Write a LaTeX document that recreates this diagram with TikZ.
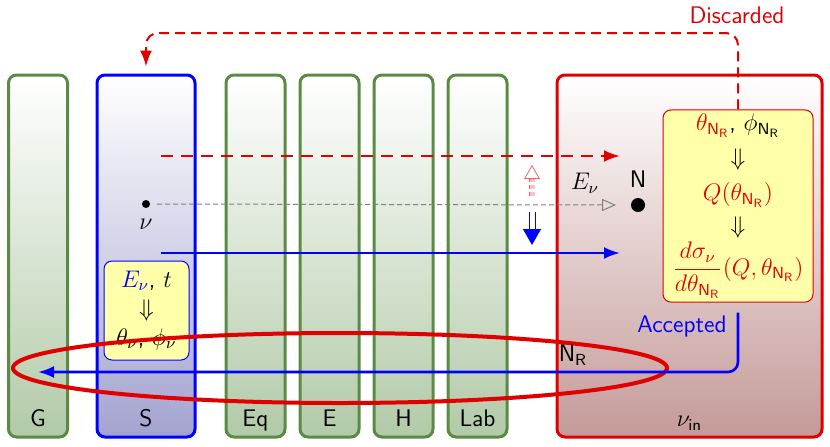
\documentclass[tikz,border=0pt,12pt]{standalone}
\usepackage{xcolor}
\usepackage{tikz}
\usetikzlibrary{positioning, arrows.meta}
\definecolor{layergreen}{HTML}{5A8A46}
\definecolor{layerfill}{HTML}{B2CAA8}
\definecolor{sourcefill}{HTML}{A3A3D0}
\definecolor{detfill}{HTML}{C49A98}
\definecolor{hitred}{HTML}{E00000}
\definecolor{noteyellow}{HTML}{FFFFAA}

\begin{document}
\begin{tikzpicture}[x=0.5pt, y=-0.5pt, font=\sffamily,
    layer/.style={draw=layergreen, line width=1.5pt, rounded corners=4pt,
        top color=white, bottom color=layerfill, minimum width=29.5pt, minimum height=181pt},
    note/.style={fill=noteyellow, rounded corners=4pt, line width=0.5pt, align=center, inner sep=2pt},
    laylabel/.style={anchor=base},
    path/.style={line width=1.3pt, -{Latex[length=8pt, width=6pt]}}]
    \useasboundingbox (0,0) rectangle (830,446);

    \node[layer] (G) at (38,256) {};
    \node[layer, draw=blue, bottom color=sourcefill, minimum width=49pt] (S) at (146,256) {};
    \node[layer] (Eq) at (255.5,256) {};
    \node[layer] (E) at (329.5,256) {};
    \node[layer] (H) at (403.5,256) {};
    \node[layer] (Lab) at (477.5,256) {};
    \node[layer, draw=hitred, bottom color=detfill, minimum width=132.5pt] (det) at (689.5,256) {};

    \foreach \n/\t in {G/G, S/S, Eq/Eq, E/E, H/H, Lab/Lab}
        \node[laylabel] at ([yshift=6pt]\n.south) {\t};
    \node[laylabel] at ([yshift=6pt]det.south) {$\nu_{\mathsf{in}}$};

    \node[note, draw=blue, minimum width=42.5pt, minimum height=49.5pt] (srcnote) at (146.5,310.5) {%
        {\color{blue}$E_\nu$}, $t$\\
        $\Downarrow$\\
        $\theta_\nu$, $\phi_\nu$};
    \node[note, draw=hitred, minimum width=75pt, minimum height=94pt] (kin) at (738,206) {%
        {\color{hitred}$\theta_{\mathsf{N}_\mathsf{R}}$}, $\phi_{\mathsf{N}_\mathsf{R}}$\\[3pt]
        $\Downarrow$\\[3pt]
        {\color{hitred}$Q(\theta_{\mathsf{N}_\mathsf{R}})$}\\[2pt]
        $\Downarrow$\\[1pt]
        {\color{hitred}$\displaystyle\frac{d\sigma_\nu}{d\theta_{\mathsf{N}_\mathsf{R}}}(Q,\theta_{\mathsf{N}_\mathsf{R}})$}};

    \node[circle, fill, inner sep=0pt, minimum size=4pt] (nu) at (146,204) {};
    \node[below=1pt of nu] {$\nu$};
    \node[circle, fill, inner sep=0pt, minimum size=7pt] (nucleus) at (638,205) {};
    \node[above=1pt of nucleus] {N};
    \node at (585,183) {$E_\nu$};

    \coordinate (farA) at (161,156);
    \coordinate (farB) at (620,156);
    \coordinate (nearA) at (161,253);
    \coordinate (nearB) at (620,253);
    \draw[path, hitred, dash pattern=on 6pt off 4pt] (farA) -- (farB);
    \draw[gray, line width=0.5pt, dash pattern=on 2.5pt off 1.5pt, -{Triangle[open, length=7pt, width=6pt]}]
        ([xshift=5.5pt]nu.center) -- ([xshift=-11pt]nucleus.center);
    \draw[path, blue] (nearA) -- (nearB);

    \coordinate (upA) at (532,196);
    \coordinate (upB) at (532,165);
    \coordinate (downA) at (532,212);
    \coordinate (downB) at (532,245);
    \draw[hitred, opacity=0.6, line width=0.4pt, double distance=2.5pt, dash pattern=on 2pt off 1.5pt,
        -{Triangle[open, length=7pt, width=8pt]}] (upA) -- (upB);
    \draw[blue, line width=0.5pt, double distance=2.5pt, -{Triangle[length=8pt, width=9pt]}] (downA) -- (downB);

    \draw[hitred, line width=2pt] (340,368) ellipse [x radius=163.5pt, y radius=17.5pt];

    \coordinate (disc) at (740,33);
    \draw[path, hitred, dash pattern=on 5pt off 3pt, rounded corners=6pt, line width=1pt]
        (kin.north) |- (S.north |- disc) -- ([yshift=3.5pt]S.north);
    \node[hitred] at (737,15) {Discarded};

    \coordinate (back) at (38,372);
    \draw[path, blue, rounded corners=5pt] ([yshift=-5pt]kin.south) |- (back);
    \node[blue] at (682,326) {Accepted};
    \node at (573,355) {N$_\mathsf{R}$};
\end{tikzpicture}
\end{document}
